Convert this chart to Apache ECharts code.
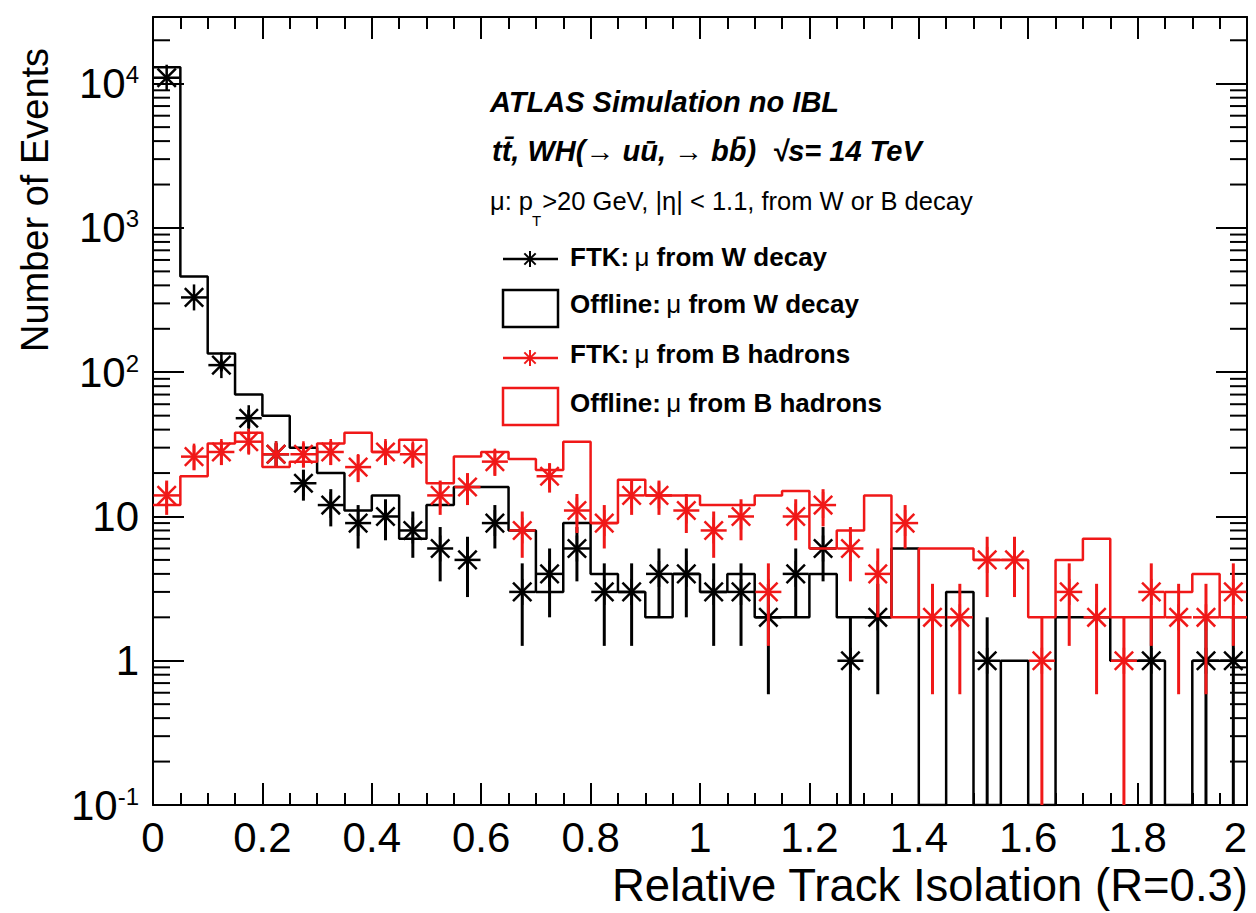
<!DOCTYPE html>
<html>
<head>
<meta charset="utf-8">
<script src="https://cdn.jsdelivr.net/npm/echarts@6/dist/echarts.min.js"></script>
<style>html,body{margin:0;padding:0;background:#fff}#c{width:1256px;height:913px}</style>
</head>
<body>
<div id="c"></div>
<script>
// ---------------- data ----------------
const binLow = [0,0.05,0.1,0.15,0.2,0.25,0.3,0.35,0.4,0.45,0.5,0.55,0.6,0.65,0.7,0.75,0.8,0.85,0.9,0.95,
                1,1.05,1.1,1.15,1.2,1.25,1.3,1.35,1.4,1.45,1.5,1.55,1.6,1.65,1.7,1.75,1.8,1.85,1.9,1.95];
const BIN_W = 0.05;
// Offline: mu from W decay (black histogram)
const offlineW = [13000,460,135,70,50,30,20,11,14,7,12,16,16,8,3,9,4,3,2,4,
                  3,4,2,2,4,2,2,6,0,3,0,1,0,2,2,1,1,0,1,1];
// FTK: mu from W decay (black stars)
const ftkW = [11000,330,112,48,27,17,12,9,10,8,6,5,9,3,4,6,3,3,4,4,
              3,3,2,4,6,1,2,0,0,0,1,0,0,0,0,0,1,0,1,1];
// Offline: mu from B hadrons (red histogram)
const offlineB = [12,19,32,38,22,24,32,38,28,34,17,26,28,25,21,33,9,18,14,14,
                  12,12,14,15,6,8,14,2,6,6,5,5,2,5,7,2,2,3,4,2];
// FTK: mu from B hadrons (red stars)
const ftkB = [14,26,28,33,27,27,28,22,28,27,14,16,24,8,19,11,9,14,14,11,
              8,10,3,10,12,6,4,9,2,2,5,5,1,3,2,1,3,2,2,3];
// axis tick labels
const yMajorTicks = [0.1,1,10,100,1000,10000];
const Y_MIN = 0.1, Y_MAX = 29000, X_MIN = 0, X_MAX = 2, X_INTERVAL = 0.2;

// ---------------- style ----------------
const BLACK = '#000000', RED = '#f01818';
const FONT = '"Liberation Sans", Arial, Helvetica, sans-serif';

const minorY = [];
yMajorTicks.forEach(function (d) {
  for (let k = 2; k <= 9; k++) { const v = d * k; if (v < Y_MAX) minorY.push(v); }
});

function histLine(vals) {
  const d = binLow.map(function (x, i) { return [x, vals[i] > 0 ? vals[i] : Y_MIN]; });
  d.push([X_MAX, d[d.length - 1][1]]);
  return d;
}
function points(vals) {
  return binLow.map(function (x, i) { return [x + BIN_W / 2, vals[i]]; })
               .filter(function (p) { return p[1] > 0; });
}
function seg(x1, y1, x2, y2, color, lw) {
  return { type: 'line', shape: { x1: x1, y1: y1, x2: x2, y2: y2 }, style: { stroke: color, lineWidth: lw } };
}
function starRender(color) {
  return function (params, api) {
    const x = api.value(0), n = api.value(1);
    const c = api.coord([x, n]);
    const err = Math.sqrt(n);
    const lo = (n - err) > Y_MIN ? (n - err) : Y_MIN;
    const pl = api.coord([x, lo]), ph = api.coord([x, n + err]);
    const r = 13, d = r * 0.7071, lw = 2.5;
    return { type: 'group', children: [
      seg(c[0], ph[1], c[0], pl[1], color, 3),
      seg(c[0], c[1] - r, c[0], c[1] + r, color, lw),
      seg(c[0] - r, c[1], c[0] + r, c[1], color, lw),
      seg(c[0] - d, c[1] - d, c[0] + d, c[1] + d, color, lw),
      seg(c[0] - d, c[1] + d, c[0] + d, c[1] - d, color, lw)
    ]};
  };
}
function yLabel(value) {
  const l = Math.log10(value), e = Math.round(l);
  if (Math.abs(l - e) > 1e-6) return '';
  if (e === 0) return '1';
  if (e === 1) return '10';
  return '10{sup|' + e + '}';
}

const axisLineStyle = { color: BLACK, width: 2 };
function xAxisDef(pos, showLabel) {
  return {
    type: 'value', position: pos, min: X_MIN, max: X_MAX, interval: X_INTERVAL,
    axisLine: { show: true, onZero: false, lineStyle: axisLineStyle },
    axisTick: { show: true, inside: true, length: 22, lineStyle: { color: BLACK, width: 2 } },
    minorTick: { show: true, splitNumber: 4, length: 12, lineStyle: { color: BLACK, width: 2 } },
    splitLine: { show: false }, minorSplitLine: { show: false },
    axisLabel: { show: showLabel, margin: 11, fontSize: 42, fontFamily: FONT, color: BLACK,
                 showMinLabel: true, showMaxLabel: true, alignMaxLabel: 'right' }
  };
}
function yAxisDef(pos, showLabel) {
  return {
    type: 'log', logBase: 10, position: pos, min: Y_MIN, max: Y_MAX,
    axisLine: { show: true, onZero: false, lineStyle: axisLineStyle },
    axisTick: { show: true, inside: true, length: 31, lineStyle: { color: BLACK, width: 2 } },
    minorTick: { show: false },
    splitLine: { show: false }, minorSplitLine: { show: false },
    axisLabel: { show: showLabel, margin: 14, fontSize: 42, fontFamily: FONT, color: BLACK,
                 formatter: yLabel,
                 rich: { sup: { fontSize: 24, fontFamily: FONT, color: BLACK, verticalAlign: 'top' } } }
  };
}

// ---------------- legend / text graphics ----------------
const measureCtx = document.createElement('canvas').getContext('2d');
function textW(str, font) { measureCtx.font = font; return measureCtx.measureText(str).width; }

const titleFont = 'italic bold 29px ' + FONT;
const infoFont = '25.5px ' + FONT;
const infoSub = '15px ' + FONT;
const legFont = 'bold 26px ' + FONT;

const graphics = [];
function txt(x, y, text, font, align, extra) {
  const el = { type: 'text', x: x, y: y, silent: true,
    style: { text: text, font: font, fill: BLACK, align: align || 'left', verticalAlign: 'middle' } };
  if (extra) Object.assign(el, extra);
  graphics.push(el);
}
txt(490, 102, 'ATLAS Simulation no IBL', titleFont);
txt(492, 151, 'tt\u0304, WH(\u2192 uu\u0304, \u2192 bb\u0304)  \u221As= 14 TeV', titleFont);
// info line with subscript T
(function () {
  const x0 = 490, yc = 201;
  const a = '\u03bc: p';
  const wa = textW(a, infoFont);
  txt(x0, yc, a, infoFont);
  txt(x0 + wa - 1, yc + 19, 'T', infoSub);
  const wt = textW('T', infoSub);
  txt(x0 + wa + wt, yc, '>20 GeV, |\u03b7| < 1.1, from W or B decay', infoFont);
})();
// axis titles
txt(35, 200, 'Number of Events', '38px ' + FONT, 'center', { rotation: Math.PI / 2 });
txt(1248, 885, 'Relative Track Isolation (R=0.3)', '45.5px ' + FONT, 'right');

// legend entries
function legendStar(cx, cy, color) {
  const r = 8, d = r * 0.7071;
  graphics.push({ type: 'line', silent: true, shape: { x1: 503, y1: cy, x2: 558, y2: cy }, style: { stroke: color, lineWidth: 2.5 } });
  graphics.push({ type: 'line', silent: true, shape: { x1: cx, y1: cy - r, x2: cx, y2: cy + r }, style: { stroke: color, lineWidth: 2 } });
  graphics.push({ type: 'line', silent: true, shape: { x1: cx - d, y1: cy - d, x2: cx + d, y2: cy + d }, style: { stroke: color, lineWidth: 2 } });
  graphics.push({ type: 'line', silent: true, shape: { x1: cx - d, y1: cy + d, x2: cx + d, y2: cy - d }, style: { stroke: color, lineWidth: 2 } });
}
function legendBox(y, color) {
  graphics.push({ type: 'rect', silent: true, shape: { x: 503, y: y, width: 55, height: 37 }, style: { fill: 'none', stroke: color, lineWidth: 2.5 } });
}
function legendText(y, head, tail) {
  graphics.push({ type: 'text', x: 570, y: y, silent: true,
    style: { text: '{b|' + head + '}{m|\u2009\u03bc}{b| ' + tail + '}', verticalAlign: 'middle', align: 'left',
      rich: { b: { font: legFont, fill: BLACK }, m: { font: '26px ' + FONT, fill: BLACK } } } });
}
legendStar(530, 259, BLACK); legendText(257, 'FTK:', 'from W decay');
legendBox(290, BLACK);       legendText(304, 'Offline:', 'from W decay');
legendStar(530, 358, RED);   legendText(354, 'FTK:', 'from B hadrons');
legendBox(388, RED);         legendText(403, 'Offline:', 'from B hadrons');

// ---------------- chart ----------------
const chart = echarts.init(document.getElementById('c'), null, { renderer: 'svg', width: 1256, height: 913 });
chart.setOption({
  animation: false,
  backgroundColor: '#ffffff',
  grid: { left: 153, right: 9, top: 17, bottom: 108, containLabel: false, outerBoundsMode: 'none' },
  xAxis: [xAxisDef('bottom', true), xAxisDef('top', false)],
  yAxis: [yAxisDef('left', true), yAxisDef('right', false)],
  series: [
    { type: 'custom', name: 'minor', silent: true, xAxisIndex: 0, yAxisIndex: 0, z: 3,
      data: minorY.map(function (v) { return [X_MIN, v]; }),
      renderItem: function (params, api) {
        const v = api.value(1);
        const a = api.coord([X_MIN, v]), b = api.coord([X_MAX, v]);
        return { type: 'group', children: [
          seg(a[0], a[1], a[0] + 17, a[1], BLACK, 2),
          seg(b[0] - 17, b[1], b[0], b[1], BLACK, 2)
        ]};
      } },
    { type: 'line', name: 'Offline: \u03bc from W decay', step: 'end', data: histLine(offlineW),
      symbol: 'none', showSymbol: false, lineStyle: { color: BLACK, width: 2.5 }, z: 4, silent: true },
    { type: 'custom', name: 'FTK: \u03bc from W decay', data: points(ftkW), renderItem: starRender(BLACK), z: 5, silent: true },
    { type: 'line', name: 'Offline: \u03bc from B hadrons', step: 'end', data: histLine(offlineB),
      symbol: 'none', showSymbol: false, lineStyle: { color: RED, width: 2.5 }, z: 6, silent: true },
    { type: 'custom', name: 'FTK: \u03bc from B hadrons', data: points(ftkB), renderItem: starRender(RED), z: 7, silent: true }
  ],
  graphic: graphics
});
</script>
</body>
</html>
